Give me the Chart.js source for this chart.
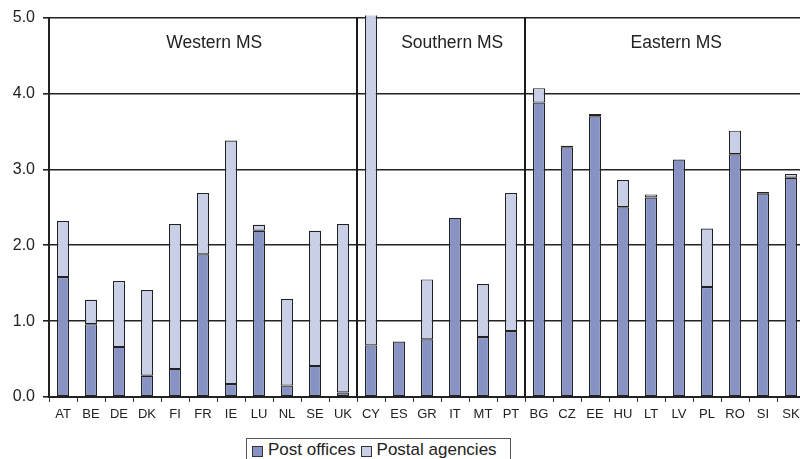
<!DOCTYPE html>
<html>
<head>
<meta charset="utf-8">
<script src="https://cdn.jsdelivr.net/npm/chart.js@4/dist/chart.umd.min.js"></script>
<style>
  html, body { margin: 0; padding: 0; background: #fff; overflow: hidden; }
  #wrap { position: relative; width: 800px; height: 459px; overflow: hidden; }
  #chart { position: absolute; left: 0; top: 0; }
  #legend {
    position: absolute; left: 246px; top: 438px; width: 265px; height: 30px;
    border: 1px solid #555; box-sizing: border-box; background: #fff;
    font-family: "Liberation Sans", Arial, sans-serif; font-size: 17px; color: #222;
    display: flex; align-items: flex-start; padding: 1px 0 0 5px; white-space: nowrap;
  }
  #legend .item { display: flex; align-items: center; margin-right: 5px; }
  #legend .sw { width: 9px; height: 9px; border: 1px solid #333; margin-right: 5px; margin-top: 2px; }
</style>
</head>
<body>
<div id="wrap">
  <canvas id="chart" width="810" height="459"></canvas>
  <div id="legend"></div>
</div>
<script>
// Member states, grouped into regions
const countries = ['AT','BE','DE','DK','FI','FR','IE','LU','NL','SE','UK',
                   'CY','ES','GR','IT','MT','PT',
                   'BG','CZ','EE','HU','LT','LV','PL','RO','SI','SK'];

// Post offices per 10,000 inhabitants
const postOffices = [1.58, 0.96, 0.66, 0.28, 0.37, 1.88, 0.17, 2.19, 0.15, 0.41, 0.06,
                     0.68, 0.73, 0.76, 2.36, 0.79, 0.87,
                     3.88, 3.29, 3.70, 2.50, 2.63, 3.13, 1.45, 3.20, 2.68, 2.89];

// Postal agencies per 10,000 inhabitants
const postalAgencies = [0.74, 0.32, 0.87, 1.13, 1.91, 0.81, 3.21, 0.08, 1.14, 1.78, 2.22,
                        4.90, 0.00, 0.79, 0.00, 0.70, 1.82,
                        0.19, 0.02, 0.03, 0.36, 0.04, 0.00, 0.77, 0.31, 0.02, 0.05];

const seriesNames = ['Post offices', 'Postal agencies'];
const yTicks = [0, 1, 2, 3, 4, 5];

// Region groups: first / last category index and where the caption sits
const regionNames = ['Western MS', 'Southern MS', 'Eastern MS'];
const regionFirst = [0, 11, 17];
const regionLast  = [10, 16, 26];
const regionCaptionAt = [5.4, 13.9, 21.9];

const colors = ['#8793c5', '#cacfe8'];
const fontFamily = '"Liberation Sans", Arial, sans-serif';

const regionPlugin = {
  id: 'regions',
  afterDatasetsDraw(chart) {
    const { ctx, chartArea, scales } = chart;
    const x = scales.x;
    ctx.save();
    // dividers between region groups
    ctx.strokeStyle = '#1a1a1a';
    ctx.lineWidth = 2;
    for (let i = 0; i < regionLast.length - 1; i++) {
      const px = (x.getPixelForValue(regionLast[i]) + x.getPixelForValue(regionFirst[i + 1])) / 2;
      ctx.beginPath();
      ctx.moveTo(px, chartArea.top);
      ctx.lineTo(px, chartArea.bottom);
      ctx.stroke();
    }
    // captions
    ctx.fillStyle = '#222';
    ctx.font = '17.5px ' + fontFamily;
    ctx.textAlign = 'center';
    ctx.textBaseline = 'middle';
    regionNames.forEach((name, i) => {
      ctx.fillText(name, x.getPixelForValue(regionCaptionAt[i]), chartArea.top + 26);
    });
    ctx.restore();
  }
};

new Chart(document.getElementById('chart'), {
  type: 'bar',
  data: {
    labels: countries,
    datasets: [
      { label: seriesNames[0], data: postOffices, backgroundColor: colors[0] },
      { label: seriesNames[1], data: postalAgencies, backgroundColor: colors[1] }
    ].map(d => Object.assign(d, {
      borderColor: '#222',
      borderWidth: 1.2,
      borderSkipped: false,
      barPercentage: 0.86,
      categoryPercentage: 0.5,
      clip: { left: false, right: false, top: 2, bottom: false }
    }))
  },
  options: {
    responsive: false,
    animation: false,
    events: [],
    layout: { padding: { left: 0, top: 16, right: 5, bottom: 0 } },
    plugins: { legend: { display: false }, tooltip: { enabled: false } },
    scales: {
      x: {
        stacked: true,
        afterFit(s) { s.height = 62; },
        grid: {
          offset: true, drawOnChartArea: false, drawTicks: true,
          tickLength: 5, color: '#333', lineWidth: 1
        },
        border: { display: true, color: '#222', width: 2 },
        ticks: {
          color: '#222', padding: 5, maxRotation: 0, autoSkip: false,
          font: { family: fontFamily, size: 13 }
        }
      },
      y: {
        stacked: true,
        min: 0, max: 5,
        afterFit(s) { s.width = 49; },
        afterBuildTicks(s) { s.ticks = yTicks.map(v => ({ value: v })); },
        grid: { color: '#222', lineWidth: 1.6, tickLength: 6, drawTicks: true },
        border: { display: true, color: '#222', width: 2 },
        ticks: {
          color: '#222', padding: 8,
          font: { family: fontFamily, size: 16 },
          callback: v => Number(v).toFixed(1)
        }
      }
    }
  },
  plugins: [regionPlugin]
});

// legend box under the axis
const legend = document.getElementById('legend');
seriesNames.forEach((name, i) => {
  const item = document.createElement('span');
  item.className = 'item';
  const sw = document.createElement('span');
  sw.className = 'sw';
  sw.style.background = colors[i];
  item.appendChild(sw);
  item.appendChild(document.createTextNode(name));
  legend.appendChild(item);
});
</script>
</body>
</html>
